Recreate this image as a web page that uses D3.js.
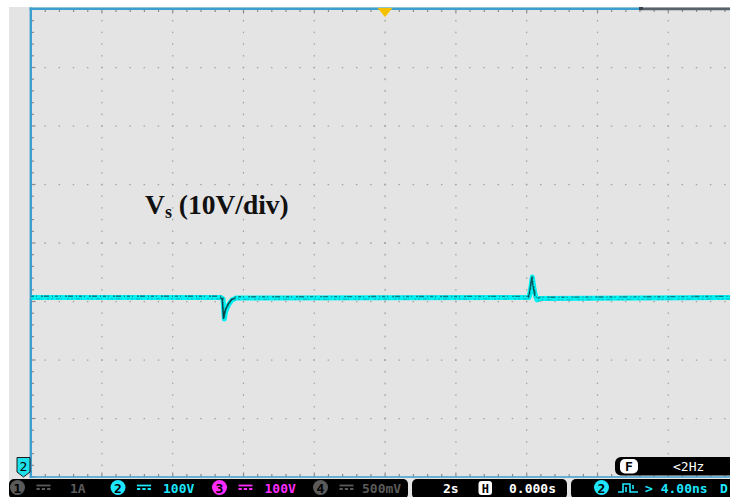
<!DOCTYPE html>
<html>
<head>
<meta charset="utf-8">
<script src="https://cdn.jsdelivr.net/npm/d3@7"></script>
<style>
  body { margin: 0; background: #ffffff; }
  svg { display: block; }
</style>
</head>
<body>
<svg id="chart" width="730" height="497"></svg>
<script>
// ---------- data ----------
// time in seconds (2 s/div, 10 divisions), voltage in volts (10 V/div, 8 divisions)
const xTicks = [-10, -8, -6, -4, -2, 0, 2, 4, 6, 8, 10];
const yTicks = [-40, -30, -20, -10, 0, 10, 20, 30, 40];
const traceTime = [-10, -4.633, -4.576, -4.540, -4.506, -4.463, -4.407, -4.322, -4.209,
                   4.068, 4.110, 4.161, 4.209, 4.251, 4.294, 4.379, 10];
const traceVolt = [-9.32, -9.32, -9.57, -12.99, -11.79, -11.11, -10.43, -9.74, -9.40,
                   -9.32, -8.03, -5.81, -7.86, -9.06, -9.74, -9.49, -9.32];
const label = { main: "V", sub: "s", rest: " (10V/div)" };
const statusItems = {
  ch1: ["1", "1A"], ch2: ["2", "100V"], ch3: ["3", "100V"], ch4: ["4", "500mV"],
  timebase: "2s", hpos: "0.000s", trigSrc: "2", trigText: "> 4.00ns", trigMore: "D",
  freqLabel: "F", freq: "<2Hz", chMarker: "2"
};

// ---------- layout ----------
const svg = d3.select("#chart");
const x = d3.scaleLinear().domain([-10, 10]).range([31, 739]);
const y = d3.scaleLinear().domain([-40, 40]).range([477, 9]);
const minorX = d3.range(0, 50 + 1).map(i => -10 + i * 0.4);
const minorY = d3.range(0, 40 + 1).map(i => -40 + i * 2);

// background
svg.append("rect").attr("x", 9).attr("y", 7).attr("width", 730).attr("height", 490).attr("fill", "#e4e4e4");

const grid = svg.append("g");
xTicks.slice(1, -1).forEach(t => {
  minorY.slice(1, -1).forEach(v => {
    const len = (t === 0) ? 2 : 1.5;
    grid.append("rect").attr("x", x(t) - 0.5).attr("y", y(v) - len / 2)
      .attr("width", 1.2).attr("height", len).attr("fill", "#a2a2a2");
  });
});
yTicks.slice(1, -1).forEach(v => {
  minorX.slice(1, -1).forEach(t => {
    const len = (v === 0) ? 2 : 1.5;
    grid.append("rect").attr("x", x(t) - len / 2).attr("y", y(v) - 0.5)
      .attr("width", len).attr("height", 1.2).attr("fill", "#a2a2a2");
  });
});
minorX.forEach(t => {
  const major = xTicks.includes(+t.toFixed(1));
  const l = major ? 4.5 : 3;
  grid.append("rect").attr("x", x(t) - 0.5).attr("y", 9).attr("width", 1.2).attr("height", l).attr("fill", "#8c8c8c");
  grid.append("rect").attr("x", x(t) - 0.5).attr("y", 477 - l).attr("width", 1.2).attr("height", l).attr("fill", "#8c8c8c");
});
minorY.forEach(v => {
  const major = yTicks.includes(v);
  const l = major ? 4.5 : 3;
  grid.append("rect").attr("x", 31).attr("y", y(v) - 0.6).attr("width", l).attr("height", 1.2).attr("fill", "#8c8c8c");
});

// borders
svg.append("line").attr("x1", 30.8).attr("x2", 30.8).attr("y1", 7.5).attr("y2", 478)
  .attr("stroke", "#3c9fd0").attr("stroke-width", 2.4);
svg.append("line").attr("x1", 29.6).attr("x2", 639).attr("y1", 8.7).attr("y2", 8.7)
  .attr("stroke", "#3c9fd0").attr("stroke-width", 2.4);
svg.append("line").attr("x1", 639).attr("x2", 730).attr("y1", 8.9).attr("y2", 8.9)
  .attr("stroke", "#56626c").attr("stroke-width", 2.6);
svg.append("rect").attr("x", 639).attr("y", 7).attr("width", 4).attr("height", 3).attr("fill", "#3a4550");
svg.append("line").attr("x1", 29.6).attr("x2", 730).attr("y1", 477).attr("y2", 477)
  .attr("stroke", "#3c9fd0").attr("stroke-width", 1.6);

// trigger marker
svg.append("path")
  .attr("d", d3.line()([[x(0) - 7.5, 8], [x(0) + 7.5, 8], [x(0), 17]]) + "Z")
  .attr("fill", "#f5c000");

// ---------- trace ----------
const pts = traceTime.map((t, i) => [x(t), y(traceVolt[i])]);
const line = d3.line();
svg.append("path").attr("d", line(pts)).attr("fill", "none")
  .attr("stroke", "#00f2f2").attr("stroke-width", 5).attr("stroke-linejoin", "round");
svg.append("path").attr("d", line(pts)).attr("fill", "none")
  .attr("transform", "translate(0,-1.2)")
  .attr("stroke", "#0a7f88").attr("stroke-width", 1.4)
  .attr("stroke-dasharray", "3 2 1 4 2 1 5 3 1 2");
svg.append("path").attr("d", line(pts)).attr("fill", "none")
  .attr("transform", "translate(0,1.4)")
  .attr("stroke", "#0aa9b2").attr("stroke-width", 1).attr("opacity", 0.8)
  .attr("stroke-dasharray", "2 3 4 1 1 5 2 2");
svg.append("path").attr("d", line(pts.slice(1, 9))).attr("fill", "none")
  .attr("transform", "translate(-0.8,0)")
  .attr("stroke", "#0b3f44").attr("stroke-width", 1.4);
svg.append("path").attr("d", line(pts.slice(9, 14))).attr("fill", "none")
  .attr("transform", "translate(-0.6,0)")
  .attr("stroke", "#0b4f55").attr("stroke-width", 1.2);

// ---------- label ----------
const lab = svg.append("text").attr("x", 145).attr("y", 214)
  .attr("font-family", "'Liberation Serif', 'Times New Roman', serif")
  .attr("font-weight", "bold").attr("font-size", 27.5).attr("fill", "#111");
lab.append("tspan").text(label.main);
lab.append("tspan").attr("font-size", 18).attr("dy", 4).text(label.sub);
lab.append("tspan").attr("dy", -4).text(label.rest);

// ---------- channel marker ----------
svg.append("path")
  .attr("d", "M17,457.5 L30,457.5 L30,472 L23.5,477 L17,472 Z")
  .attr("fill", "#1ee0ea").attr("stroke", "#1a1a1a").attr("stroke-width", 1);
svg.append("text").attr("x", 23.5).attr("y", 471).attr("text-anchor", "middle")
  .attr("font-family", "'DejaVu Sans Mono', monospace").attr("font-size", 13).attr("fill", "#000")
  .text(statusItems.chMarker);

// ---------- F box ----------
const mono = "'DejaVu Sans Mono', monospace";
svg.append("rect").attr("x", 615).attr("y", 457).attr("width", 130).attr("height", 18.5).attr("rx", 6).attr("fill", "#000");
svg.append("rect").attr("x", 620).attr("y", 459).attr("width", 18).attr("height", 14.5).attr("rx", 5).attr("fill", "#fff");
svg.append("text").attr("x", 629).attr("y", 471).attr("text-anchor", "middle").attr("font-family", mono)
  .attr("font-weight", "bold").attr("font-size", 13).attr("fill", "#000").text(statusItems.freqLabel);
svg.append("text").attr("x", 673).attr("y", 471).attr("font-family", mono).attr("font-size", 13)
  .attr("fill", "#fff").text(statusItems.freq);

// ---------- status bar ----------
const bar = svg.append("g");
[[9, 408], [412, 567], [571, 760]].forEach(([a, b]) => {
  bar.append("rect").attr("x", a).attr("y", 479).attr("width", b - a).attr("height", 20).attr("rx", 5).attr("fill", "#000");
});
const TY = 492.5;
function chan(cx, num, text, textX, col, circCol, numCol) {
  bar.append("circle").attr("cx", cx).attr("cy", 487.5).attr("r", 7.5).attr("fill", circCol);
  bar.append("text").attr("x", cx).attr("y", TY).attr("text-anchor", "middle").attr("font-family", mono)
    .attr("font-weight", "bold").attr("font-size", 13).attr("fill", numCol).text(num);
  const sx = cx + 19;
  bar.append("line").attr("x1", sx).attr("x2", sx + 14).attr("y1", 485.5).attr("y2", 485.5)
    .attr("stroke", col).attr("stroke-width", 1.8);
  bar.append("line").attr("x1", sx).attr("x2", sx + 14).attr("y1", 489).attr("y2", 489)
    .attr("stroke", col).attr("stroke-width", 1.8).attr("stroke-dasharray", "3.3 2");
  bar.append("text").attr("x", textX).attr("y", TY).attr("font-family", mono)
    .attr("font-weight", "bold").attr("font-size", 13).attr("fill", col).text(text);
}
chan(17.5, statusItems.ch1[0], statusItems.ch1[1], 70, "#5a5a5a", "#5a5a5a", "#000");
chan(118, statusItems.ch2[0], statusItems.ch2[1], 163, "#1ee6ff", "#1ee6ff", "#000");
chan(219.5, statusItems.ch3[0], statusItems.ch3[1], 264.5, "#ff2cff", "#ff2cff", "#000");
chan(320.5, statusItems.ch4[0], statusItems.ch4[1], 362, "#5a5a5a", "#5a5a5a", "#000");

bar.append("text").attr("x", 443).attr("y", TY).attr("font-family", mono).attr("font-weight", "bold")
  .attr("font-size", 13).attr("fill", "#fff").text(statusItems.timebase);
bar.append("rect").attr("x", 478.5).attr("y", 481).attr("width", 13.5).attr("height", 14).attr("rx", 3).attr("fill", "#fff");
bar.append("text").attr("x", 485.3).attr("y", TY).attr("text-anchor", "middle").attr("font-family", mono)
  .attr("font-weight", "bold").attr("font-size", 12).attr("fill", "#000").text("H");
bar.append("text").attr("x", 509).attr("y", TY).attr("font-family", mono).attr("font-weight", "bold")
  .attr("font-size", 13).attr("fill", "#fff").text(statusItems.hpos);

bar.append("circle").attr("cx", 601.5).attr("cy", 487.5).attr("r", 7.5).attr("fill", "#1ee6ff");
bar.append("text").attr("x", 601.5).attr("y", TY).attr("text-anchor", "middle").attr("font-family", mono)
  .attr("font-weight", "bold").attr("font-size", 13).attr("fill", "#000").text(statusItems.trigSrc);
bar.append("path")
  .attr("d", "M618,492 L623,492 L623,484 L630,484 L630,492 L638,492 M626,487 L626,492 M633,485 L633,489")
  .attr("fill", "none").attr("stroke", "#1ee6ff").attr("stroke-width", 1.6);
bar.append("text").attr("x", 645).attr("y", TY).attr("font-family", mono).attr("font-weight", "bold")
  .attr("font-size", 13).attr("fill", "#1ee6ff").text(statusItems.trigText);
bar.append("text").attr("x", 720).attr("y", TY).attr("font-family", mono).attr("font-weight", "bold")
  .attr("font-size", 13).attr("fill", "#1ee6ff").text(statusItems.trigMore);
</script>
</body>
</html>
